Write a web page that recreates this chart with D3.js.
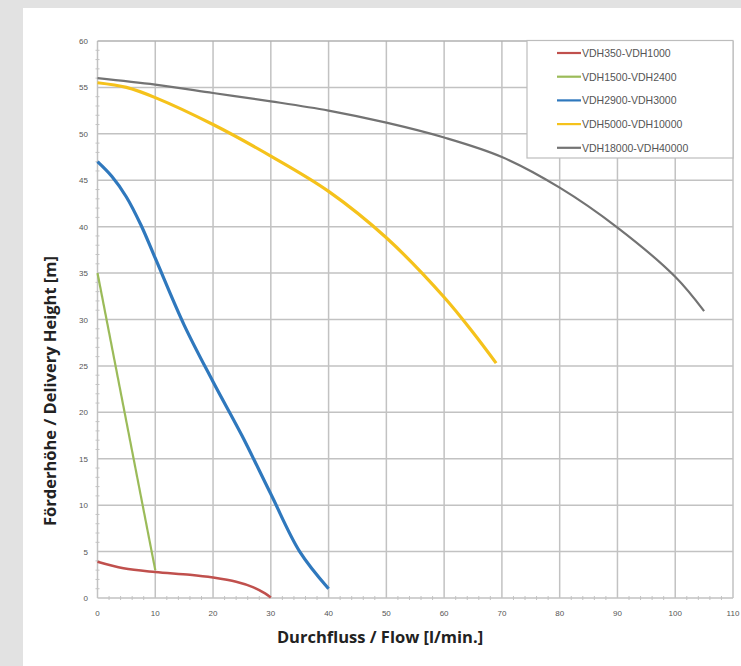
<!DOCTYPE html>
<html><head><meta charset="utf-8">
<script src="https://cdn.jsdelivr.net/npm/d3@7"></script>
<style>
html,body{margin:0;padding:0;background:#e2e2e2;}
svg{display:block;}
</style></head>
<body>
<svg id="chart" width="741" height="666"></svg>
<script>
const seriesNames = ["VDH350-VDH1000","VDH1500-VDH2400","VDH2900-VDH3000","VDH5000-VDH10000","VDH18000-VDH40000"];
const seriesColors = ["#c0504d","#9bbb59","#2f78bd","#f5c21b","#737373"];
const seriesWidths = [2.5,2.2,3.2,3.2,2.2];
const red = [[0,3.9],[4.5,3.2],[10,2.8],[16,2.5],[20,2.2],[24,1.75],[27,1.15],[29,0.5],[30,0.05]];
const green = [[0,35],[10,3]];
const blue = [[0,47],[2.5,45.4],[5,43.2],[7.5,40.2],[10,36.6],[15,29.4],[20,23.3],[25,17.5],[30,11.2],[35,5],[40,1]];
const yellow = [[0,55.5],[5,55],[10,53.9],[20,51],[30,47.6],[40,43.8],[50,38.8],[60,32.4],[65,28.6],[69,25.3]];
const gray = [[0,56],[10,55.3],[20,54.4],[30,53.5],[40,52.5],[50,51.2],[60,49.6],[70,47.5],[80,44.2],[90,39.9],[100,34.6],[105,30.9]];
const allSeries = [red, green, blue, yellow, gray];
const xTicks = [0,10,20,30,40,50,60,70,80,90,100,110];
const yTicks = [0,5,10,15,20,25,30,35,40,45,50,55,60];
const xTitle = "Durchfluss / Flow [l/min.]";
const yTitle = "Förderhöhe / Delivery Height [m]";

const svg = d3.select("#chart");
svg.append("rect").attr("x",23).attr("y",8).attr("width",741-23).attr("height",666-8).attr("fill","#ffffff");

const x = d3.scaleLinear().domain([0,110]).range([97.5,733]);
const y = d3.scaleLinear().domain([0,60]).range([598,41]);

const g = svg.append("g");
const xMinor = d3.range(0,111,2).filter(v=>v%10!==0);
const yMinor = d3.range(0,61,1).filter(v=>v%5!==0);
g.selectAll(".xm").data(xMinor).enter().append("line")
 .attr("x1",d=>x(d)).attr("x2",d=>x(d)).attr("y1",y(0)-2).attr("y2",y(0)+2)
 .attr("stroke","#c4c4c4").attr("stroke-width",1);
g.selectAll(".ym").data(yMinor).enter().append("line")
 .attr("x1",x(0)-2).attr("x2",x(0)+2).attr("y1",d=>y(d)).attr("y2",d=>y(d))
 .attr("stroke","#c4c4c4").attr("stroke-width",1);

g.selectAll(".vg").data(xTicks).enter().append("line")
 .attr("x1",d=>x(d)).attr("x2",d=>x(d)).attr("y1",y(0)).attr("y2",y(60))
 .attr("stroke","#c2c2c2").attr("stroke-width",1.5);
g.selectAll(".hg").data(yTicks).enter().append("line")
 .attr("x1",x(0)).attr("x2",x(110)).attr("y1",d=>y(d)).attr("y2",d=>y(d))
 .attr("stroke",d=>d===60?"#b0b0b0":"#c2c2c2").attr("stroke-width",1.5);

g.selectAll(".xl").data(xTicks).enter().append("text")
 .attr("x",d=>x(d)).attr("y",616).attr("text-anchor","middle")
 .attr("font-family","Liberation Sans, Arial, sans-serif").attr("font-size",8).attr("fill","#555")
 .text(d=>d);
g.selectAll(".yl").data(yTicks).enter().append("text")
 .attr("x",88).attr("y",d=>y(d)+3).attr("text-anchor","end")
 .attr("font-family","Liberation Sans, Arial, sans-serif").attr("font-size",8).attr("fill","#555")
 .text(d=>d);

const line = d3.line().x(d=>x(d[0])).y(d=>y(d[1])).curve(d3.curveCatmullRom.alpha(0.5));
allSeries.forEach((s,i)=>{
  g.append("path").datum(s).attr("d",line).attr("fill","none")
   .attr("stroke",seriesColors[i]).attr("stroke-width",seriesWidths[i])
   .attr("stroke-linecap","butt").attr("stroke-linejoin","round");
});

const lg = svg.append("g");
lg.append("rect").attr("x",527).attr("y",40.5).attr("width",206).attr("height",117.5)
 .attr("fill","#fff").attr("stroke","#bdbdbd").attr("stroke-width",1.2);
seriesNames.forEach((n,i)=>{
  const yy = 53 + i*23.7;
  lg.append("line").attr("x1",557).attr("x2",581).attr("y1",yy).attr("y2",yy)
    .attr("stroke",seriesColors[i]).attr("stroke-width",2.2);
  lg.append("text").attr("x",582).attr("y",yy+3.8)
    .attr("font-family","Liberation Sans, Arial, sans-serif").attr("font-size",10.5).attr("fill","#555")
    .text(n);
});

svg.append("text").attr("x",380).attr("y",643).attr("text-anchor","middle")
 .attr("font-family","Open Sans, sans-serif").attr("font-weight",700).attr("font-size",16.5).attr("fill","#222")
 .text(xTitle);
svg.append("text").attr("transform","translate(56,391) rotate(-90)").attr("text-anchor","middle")
 .attr("font-family","Open Sans, sans-serif").attr("font-weight",700).attr("font-size",16.5).attr("fill","#222")
 .text(yTitle);
</script>
</body></html>
